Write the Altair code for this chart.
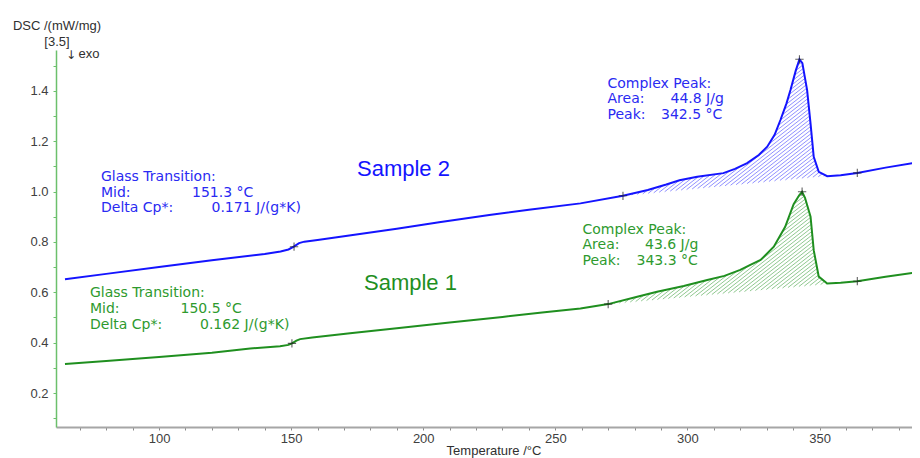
import altair as alt
import numpy as np
import pandas as pd

# ---------------- data ----------------
# Sample 2 (blue curve)
s2_temp = [64.4, 80, 100, 120, 140, 146, 149, 151, 153, 155, 160, 172, 190, 206, 225, 240,
           259.5, 275.6, 285, 292, 297, 303.7, 313.6, 318, 322.6, 327, 330.2, 333, 335.2,
           337.5, 339, 341, 342.4, 343.5, 345.3, 346.6, 347.8, 349.7, 352.9, 358, 364.3, 375, 388.3]
s2_dsc = [0.652, 0.673, 0.700, 0.727, 0.752, 0.762, 0.770, 0.781, 0.795, 0.801, 0.808, 0.825,
          0.852, 0.878, 0.907, 0.928, 0.953, 0.983, 1.006, 1.028, 1.045, 1.059, 1.073, 1.090,
          1.113, 1.145, 1.178, 1.225, 1.284, 1.350, 1.403, 1.480, 1.525, 1.510, 1.403, 1.270,
          1.138, 1.078, 1.061, 1.065, 1.074, 1.095, 1.118]

# Sample 1 (green curve)
s1_temp = [64.4, 80, 100, 120, 134.5, 145.8, 149, 150.3, 152, 153.4, 158, 172.3, 190, 210, 230,
           245, 259.5, 270, 281, 288.5, 298.6, 307.5, 314, 320, 324, 327.7, 332.7, 337, 340.2,
           342.3, 343.4, 344.5, 346.6, 347.8, 349.7, 352.9, 358, 364.3, 375, 388.3]
s1_dsc = [0.315, 0.327, 0.343, 0.360, 0.377, 0.386, 0.391, 0.397, 0.408, 0.414, 0.420, 0.437,
          0.457, 0.480, 0.502, 0.520, 0.536, 0.553, 0.582, 0.602, 0.625, 0.649, 0.665, 0.689,
          0.710, 0.728, 0.781, 0.860, 0.950, 0.985, 0.999, 0.975, 0.900, 0.767, 0.662, 0.635,
          0.638, 0.644, 0.662, 0.681]

# evaluation points (+ markers)
s2_mark_temp = [151.1, 275.6, 342.4, 364.3]
s2_mark_dsc = [0.781, 0.983, 1.525, 1.074]
s1_mark_temp = [150.3, 270.0, 343.4, 364.3]
s1_mark_dsc = [0.397, 0.553, 0.999, 0.644]

# peak integration: baseline end points and end of hatched region
s2_peak_base = [275.6, 0.983, 364.3, 1.074, 353.0]
s1_peak_base = [270.0, 0.553, 364.3, 0.644, 353.0]

x_ticks = list(range(70, 390, 10))
y_ticks = [round(0.1 * i, 1) for i in range(1, 16)]

# ---------------- layout ----------------
W, H = 856, 377
X_DOM = [61, 385]
Y_DOM = [0.065, 1.562]

BLUE = "#1414ff"
BLUE_TXT = "#2a2af2"
GREEN = "#1f8f1f"
GREEN_TXT = "#2e9a2e"


def hatch(temp, dsc, base, angle=38, gap_px=4.8):
    t_lo, v_lo, t_hi, v_hi, t_end = base
    sx = W / (X_DOM[1] - X_DOM[0])
    sy = H / (Y_DOM[1] - Y_DOM[0])
    k = np.tan(np.radians(angle)) * sx / sy
    T = np.arange(t_lo, t_end, 0.02)
    cur = np.interp(T, temp, dsc)
    bas = v_lo + (T - t_lo) * (v_hi - v_lo) / (t_hi - t_lo)
    gap = gap_px / sx
    s_start = t_lo - (cur.max() - v_lo) / k
    rows = []
    for s in np.arange(s_start, t_end, gap):
        vl = v_lo + k * (T - s)
        inside = (vl >= bas) & (vl <= cur)
        d = np.diff(np.concatenate([[0], inside.astype(int), [0]]))
        starts = np.flatnonzero(d == 1)
        ends = np.flatnonzero(d == -1)
        for a, b in zip(starts, ends):
            if b - a < 2:
                continue
            rows.append({"t1": T[a], "v1": vl[a], "t2": T[b - 1], "v2": vl[b - 1]})
    return pd.DataFrame(rows)


xs = alt.Scale(domain=X_DOM, nice=False, zero=False)
ys = alt.Scale(domain=Y_DOM, nice=False, zero=False)

x_axis = alt.Axis(values=x_ticks, labelExpr="datum.value % 50 == 0 ? datum.label : ''",
                  tickSize=3, labelPadding=2, domainColor="#a6a6a6", domainWidth=2,
                  tickColor="#8a8a8a", labelFont="Liberation Sans", labelFontSize=13,
                  labelColor="#404040", grid=False, title=None, labelOverlap=False,
                  labelFlush=False, labelBound=False)
y_axis = alt.Axis(values=y_ticks, format=".1f",
                  labelExpr="round(datum.value*10) % 2 == 0 ? datum.label : ''",
                  tickSize=3, labelPadding=5, domainColor="#6cc06c", domainWidth=1.5,
                  tickColor="#6cc06c", labelFont="Liberation Sans", labelFontSize=13,
                  labelColor="#404040", grid=False, title=None, labelOverlap=False,
                  labelFlush=False, labelBound=False)


def X(f):
    return alt.X(f, type="quantitative", scale=xs, axis=x_axis)


def Y(f):
    return alt.Y(f, type="quantitative", scale=ys, axis=y_axis)


def hatch_layer(df, color):
    return alt.Chart(df).mark_rule(strokeWidth=0.8, opacity=0.8, color=color, clip=True).encode(
        x=X("t1"), y=Y("v1"), x2="t2", y2="v2")


def line_layer(temp, dsc, color):
    df = pd.DataFrame({"temp": temp, "dsc": dsc})
    return alt.Chart(df).mark_line(strokeWidth=2, color=color, clip=True).encode(
        x=X("temp"), y=Y("dsc"))


marks = pd.DataFrame({"temp": s2_mark_temp + s1_mark_temp, "dsc": s2_mark_dsc + s1_mark_dsc})
mark_layer = alt.Chart(marks).mark_point(
    shape="M-1,0L1,0M0,-1L0,1", size=70, filled=False, color="#202020", strokeWidth=1.1
).encode(x=X("temp"), y=Y("dsc"))

dummy = pd.DataFrame({"a": [0]})


def txt(s, x, y, color, size=14, font="DejaVu Sans", align="left"):
    return alt.Chart(dummy).mark_text(
        text=s, x=x, y=y, color=color, fontSize=size, font=font, align=align, baseline="middle"
    )


texts = [
    # axis captions
    txt("DSC /(mW/mg)", 1, -24, "#303030", 13, "Liberation Sans", "center"),
    txt("[3.5]", 1, -8, "#303030", 13, "Liberation Sans", "center"),
    txt("\u2193", 15, 5, "#303030", 12, "DejaVu Sans", "center"),
    txt("exo", 22.5, 3.5, "#303030", 13, "Liberation Sans"),
    txt("Temperature /\u00b0C", 438, 401, "#303030", 13, "Liberation Sans", "center"),
    # sample labels
    txt("Sample 2", 301, 119, BLUE, 22, "Liberation Sans"),
    txt("Sample 1", 308, 233, GREEN, 22, "Liberation Sans"),
    # glass transition, sample 2
    txt("Glass Transition:", 45, 127, BLUE_TXT),
    txt("Mid:", 45, 142.5, BLUE_TXT),
    txt("151.3 \u00b0C", 136, 142.5, BLUE_TXT),
    txt("Delta Cp*:", 45, 158, BLUE_TXT),
    txt("0.171 J/(g*K)", 155.5, 158, BLUE_TXT),
    # glass transition, sample 1
    txt("Glass Transition:", 34, 243, GREEN_TXT),
    txt("Mid:", 34, 259, GREEN_TXT),
    txt("150.5 \u00b0C", 124.5, 259, GREEN_TXT),
    txt("Delta Cp*:", 34, 275, GREEN_TXT),
    txt("0.162 J/(g*K)", 144, 275, GREEN_TXT),
    # complex peak, sample 2
    txt("Complex Peak:", 551.5, 33.5, BLUE_TXT),
    txt("Area:", 551.5, 49, BLUE_TXT),
    txt("44.8 J/g", 614.5, 49, BLUE_TXT),
    txt("Peak:", 551.5, 64.5, BLUE_TXT),
    txt("342.5 \u00b0C", 605, 64.5, BLUE_TXT),
    # complex peak, sample 1
    txt("Complex Peak:", 526.5, 179.5, GREEN_TXT),
    txt("Area:", 526.5, 195, GREEN_TXT),
    txt("43.6 J/g", 589, 195, GREEN_TXT),
    txt("Peak:", 526.5, 210.5, GREEN_TXT),
    txt("343.3 \u00b0C", 580.5, 210.5, GREEN_TXT),
]

chart = alt.layer(
    hatch_layer(hatch(s2_temp, s2_dsc, s2_peak_base), "#5050ff"),
    hatch_layer(hatch(s1_temp, s1_dsc, s1_peak_base), "#50a850"),
    line_layer(s2_temp, s2_dsc, BLUE),
    line_layer(s1_temp, s1_dsc, GREEN),
    mark_layer,
    *texts,
).properties(
    width=W, height=H,
    autosize=alt.AutoSizeParams(type="none"),
    padding={"left": 48, "top": 42, "right": 0, "bottom": 31},
    background="white",
).configure_view(stroke=None)

chart.save("out.html", embed_options={"renderer": "svg", "actions": False})
